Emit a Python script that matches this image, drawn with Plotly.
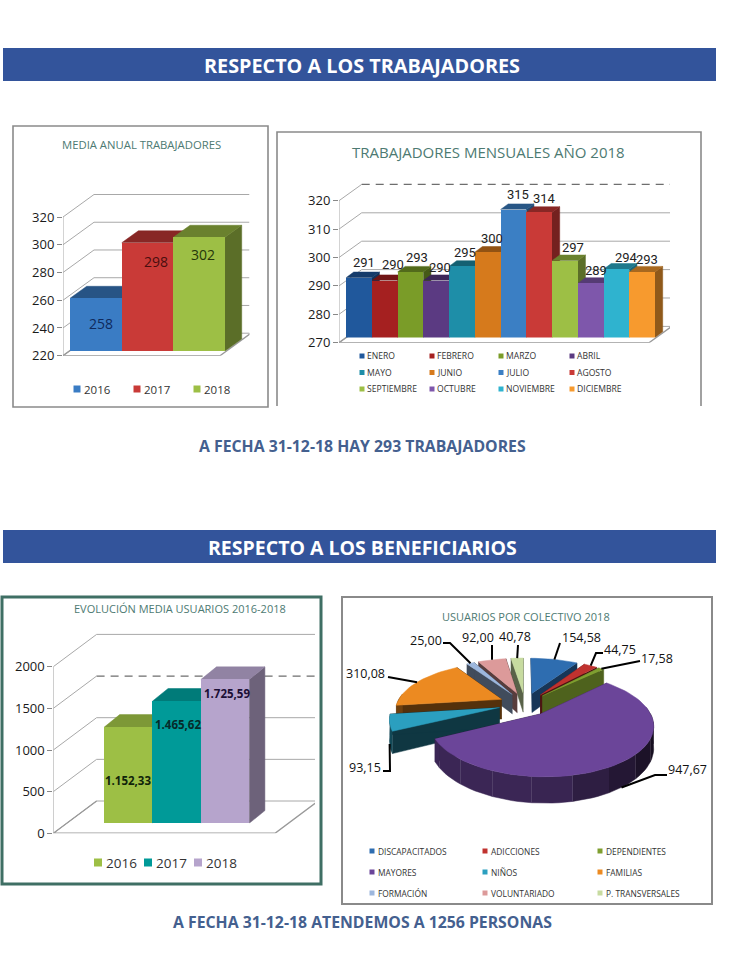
import math
import plotly.graph_objects as go

# ---- series ----
anual_years = ["2016", "2017", "2018"]
anual_values = [258, 298, 302]
anual_ticks = [220, 240, 260, 280, 300, 320]

meses = ["ENERO", "FEBRERO", "MARZO", "ABRIL", "MAYO", "JUNIO", "JULIO", "AGOSTO",
         "SEPTIEMBRE", "OCTUBRE", "NOVIEMBRE", "DICIEMBRE"]
mensual_values = [291, 290, 293, 290, 295, 300, 315, 314, 297, 289, 294, 293]
mensual_ticks = [270, 280, 290, 300, 310, 320]

usuarios_years = ["2016", "2017", "2018"]
usuarios_values = [1152.33, 1465.62, 1725.59]
usuarios_labels = ["1.152,33", "1.465,62", "1.725,59"]
usuarios_ticks = [0, 500, 1000, 1500, 2000]

colectivos = ["DISCAPACITADOS", "ADICCIONES", "DEPENDIENTES", "MAYORES", "NIÑOS", "FAMILIAS",
              "FORMACIÓN", "VOLUNTARIADO", "P. TRANSVERSALES"]
colectivo_values = [154.58, 44.75, 17.58, 947.67, 93.15, 310.08, 25.00, 92.00, 40.78]
colectivo_labels = ["154,58", "44,75", "17,58", "947,67", "93,15", "310,08", "25,00", "92,00", "40,78"]

# ---- palette ----
anual_colors = ["#3a7cc4", "#c93a37", "#9dbf45"]
mensual_colors = ["#20589c", "#a52020", "#7a9c28", "#5b3a82", "#1e8ea8", "#d67a1c",
                  "#3b7fc4", "#c93a37", "#9dbf45", "#7e57ab", "#2fb3cf", "#f79a2e"]
usuarios_colors = ["#9dbf45", "#009a98", "#b6a4cc"]
pie_colors = ["#2e6db0", "#c0322f", "#7f9f30", "#6b4599", "#2b9fbf", "#ec8a21",
              "#9db7dd", "#dc9a9a", "#c7dba0"]
pie_wall_shade = [0.5, 0.4, 0.62, 0.45, 0.35, 0.36, 0.42, 0.4, 0.45]
BANNER = "#33549b"
CAPTION = "#44608f"
TITLE = "#4d7a72"
GRID = "#a8a8a8"
FONT = "Open Sans"

W, H = 754, 960
fig = go.Figure()
layout = dict(width=W, height=H, margin=dict(l=0, r=0, t=0, b=0, pad=0, autoexpand=False), autosize=False,
              paper_bgcolor="white", plot_bgcolor="rgba(0,0,0,0)", showlegend=False,
              bargap=0, hovermode=False,
              xaxis=dict(domain=[0, 1], range=[0, W], visible=False, fixedrange=True),
              yaxis=dict(domain=[0, 1], range=[H, 0], visible=False, fixedrange=True))
shapes, notes = [], []


def shade(color, k):
    r, g, b = (int(color[i:i + 2], 16) for i in (1, 3, 5))
    return "#%02x%02x%02x" % (int(r * k), int(g * k), int(b * k))


def poly(xs, ys, color, xa="x", ya="y"):
    fig.add_trace(go.Scatter(x=xs, y=ys, mode="lines", fill="toself", fillcolor=color,
                             line=dict(color=color, width=0.5), xaxis=xa, yaxis=ya,
                             hoverinfo="skip"))


def line(xs, ys, color=GRID, width=1, dash="solid", xa="x", ya="y"):
    fig.add_trace(go.Scatter(x=xs, y=ys, mode="lines", line=dict(color=color, width=width, dash=dash),
                             xaxis=xa, yaxis=ya, hoverinfo="skip"))


def text(x, y, s, size, color="#222222", bold=False, anchor="center", family=FONT):
    notes.append(dict(x=x, y=y, xref="x", yref="y", text=f"<b>{s}</b>" if bold else s, showarrow=False,
                      xanchor=anchor, yanchor="middle",
                      font=dict(family=family, size=size, color=color)))


axis_no = [1]


def add_axes(x0, x1, ytop, ybot, xr, yr, **yopts):
    axis_no[0] += 1
    n = axis_no[0]
    yopts = yopts or dict(visible=False)
    layout[f"xaxis{n}"] = dict(domain=[x0 / W, x1 / W], range=xr, visible=False, fixedrange=True, anchor=f"y{n}")
    layout[f"yaxis{n}"] = dict(domain=[1 - ybot / H, 1 - ytop / H], range=yr, fixedrange=True,
                               anchor=f"x{n}", **yopts)
    return f"x{n}", f"y{n}"


def bars3d(values, colors, ticks, ax_x, y_floor, px_per_unit, bar_w, wall_dx, wall_dy, grid_right,
           floor_right, bar_dx, bar_dy, depth_dx, depth_dy, labels, label_shift, label_font, dashed=None,
           top_k=0.68, side_k=0.58):
    """Oblique column chart: a back wall, then side/top faces, then the front faces as real bars."""
    vmin = ticks[0]
    y_top = y_floor - (ticks[-1] - vmin) * px_per_unit - wall_dy - 3
    yspan = (y_floor - y_top) / px_per_unit
    xspan = (grid_right - ax_x) / bar_w
    xr, yr = [0, xspan], [vmin, vmin + yspan]
    wdx, wdy = wall_dx / bar_w, wall_dy / px_per_unit
    fx = (floor_right - ax_x) / bar_w

    wx, wy = add_axes(ax_x, grid_right, y_top, y_floor, xr, yr,
                      tickmode="array", tickvals=ticks, ticks="outside", ticklen=5, tickcolor="#888888",
                      tickfont=dict(family=FONT, size=13, color="#1a1a1a"), showgrid=False, zeroline=False,
                      showline=False)
    for t in ticks:
        d = dashed == t
        line([0, wdx], [t, t + wdy], xa=wx, ya=wy)
        line([wdx, xspan], [t + wdy, t + wdy], color="#6e6e6e" if d else GRID,
             width=1.3 if d else 1, dash="8px,6px" if d else "solid", xa=wx, ya=wy)
    line([0, 0], [ticks[0], ticks[-1]], xa=wx, ya=wy)
    line([wdx, 0, fx, fx + wdx], [vmin + wdy, vmin, vmin, vmin + wdy], color="#9a9a9a", width=1.4, xa=wx, ya=wy)

    # Faces and fronts share one plane, moved off the axis by the floor inset.
    plane = (ax_x + bar_dx, grid_right + bar_dx, y_top - bar_dy, y_floor - bar_dy)
    fx_a, fy_a = add_axes(*plane, xr, yr)
    bx_a, by_a = add_axes(*plane, xr, yr)
    ddx, ddy = depth_dx / bar_w, depth_dy / px_per_unit
    for i, (v, c) in enumerate(zip(values, colors)):
        poly([i + 1, i + 1 + ddx, i + 1 + ddx, i + 1], [vmin, vmin + ddy, v + ddy, v], shade(c, side_k), fx_a, fy_a)
    for i, (v, c) in enumerate(zip(values, colors)):
        poly([i, i + ddx, i + 1 + ddx, i + 1], [v, v + ddy, v + ddy, v], shade(c, top_k), fx_a, fy_a)
    fig.add_trace(go.Bar(x=[i + 0.5 for i in range(len(values))], y=values, width=1, marker=dict(color=colors, line=dict(width=0)),
                         xaxis=bx_a, yaxis=by_a, hoverinfo="skip"))
    for i, (v, lab, (sx, sy), (fam, size, col, bold)) in enumerate(zip(values, labels, label_shift, label_font)):
        notes.append(dict(x=i + 0.5, y=v, xref=bx_a, yref=by_a, text=f"<b>{lab}</b>" if bold else lab,
                          showarrow=False, xshift=sx, yshift=sy, font=dict(family=fam, size=size, color=col)))


# ---- page furniture ----
for y0, y1 in ((48, 81), (530, 563)):
    shapes.append(dict(type="rect", xref="x", yref="y", x0=3, x1=716, y0=y0, y1=y1, fillcolor=BANNER,
                       line=dict(width=0), layer="below"))
text(362, 65, "RESPECTO A LOS TRABAJADORES", 19.8, "white", True)
text(362, 547, "RESPECTO A LOS BENEFICIARIOS", 19.5, "white", True)
text(362, 446, "A FECHA 31-12-18 HAY 293 TRABAJADORES", 15.8, CAPTION, True)
text(362, 922, "A FECHA 31-12-18 ATENDEMOS A 1256 PERSONAS", 15.8, CAPTION, True)

for x0, y0, x1, y1, col, w in ((13, 126, 268, 407, "#8a8a8a", 1.6), (342, 597, 712, 904, "#8a8a8a", 2),
                               (2, 597, 321, 884, "#3f6f64", 3)):
    shapes.append(dict(type="rect", xref="x", yref="y", x0=x0, x1=x1, y0=y0, y1=y1,
                       line=dict(color=col, width=w), layer="below"))
line([277, 277, 701, 701], [406, 132, 132, 406], color="#8a8a8a", width=1.6)

text(141, 144, "MEDIA ANUAL TRABAJADORES", 11.3, TITLE)
text(488, 152, "TRABAJADORES MENSUALES AÑO 2018", 15, TITLE)
text(180, 608, "EVOLUCIÓN MEDIA USUARIOS 2016-2018", 11, TITLE)
text(526, 616, "USUARIOS POR COLECTIVO 2018", 11, TITLE)

# ---- annual staff ----
bars3d(anual_values, anual_colors, anual_ticks, ax_x=63, y_floor=355.7, px_per_unit=1.387, bar_w=51.67,
       wall_dx=31, wall_dy=22.5, grid_right=249.5, floor_right=220, bar_dx=7, bar_dy=4.7,
       depth_dx=16.7, depth_dy=12, labels=[str(v) for v in anual_values],
       label_shift=[(5, -25), (8, -19), (4, -17)],
       label_font=[(FONT, 14, "#0f2a5c", False), (FONT, 14, "#4a0e0e", False), (FONT, 14, "#26360a", False)])

# ---- monthly staff ----
bars3d(mensual_values, mensual_colors, mensual_ticks, ax_x=339, y_floor=342.7, px_per_unit=2.84, bar_w=25.75,
       wall_dx=22.7, wall_dy=16.3, grid_right=670, floor_right=649, bar_dx=7, bar_dy=5.3,
       depth_dx=7.7, depth_dy=5.7, labels=[str(v) for v in mensual_values],
       label_shift=[(5, 15), (8, 16), (7, 15), (4, 13), (3, 14), (4, 14),
                    (5, 15), (5, 14), (8, 13), (5, 13), (10, 12), (5, 13)],
       label_font=[("Roboto", 13, "#222222", False)] * 12, dashed=320)

# ---- yearly users ----
bars3d(usuarios_values, usuarios_colors, usuarios_ticks, ax_x=53.3, y_floor=833.3, px_per_unit=0.0833,
       bar_w=48.4, wall_dx=43.3, wall_dy=32.3, grid_right=315, floor_right=275, bar_dx=50.7, bar_dy=10,
       depth_dx=15.7, depth_dy=12.7, labels=usuarios_labels, label_shift=[(0, -53), (1, -23), (2, -14)],
       label_font=[(FONT, 11.5, "#10240a", True), (FONT, 11.5, "#062a2a", True), (FONT, 11.5, "#1c0f35", True)],
       dashed=1500, top_k=0.8, side_k=0.6)

# ---- exploded pie in perspective ----
PX, PY = 525, 704      # pivot of the disc on the page
RX, RY = 105, 46       # disc radius across and along the view
THICK = 20
EXPLODE = 0.25
VIEW = 5.0
total = sum(colectivo_values)


def project(u, v, drop=0.0):
    s = VIEW / (VIEW + v)
    return PX + RX * u * s, PY - RY * v * s + drop * s


slices = []
start = 0.0
for val, col, wk in zip(colectivo_values, pie_colors, pie_wall_shade):
    sweep = 2 * math.pi * val / total
    slices.append((start, start + sweep, col, wk))
    start += sweep


def rim(a, ox, oy):
    return ox + math.sin(a), oy + math.cos(a)


def draw_slice(a0, a1, col, wk):
    mid = (a0 + a1) / 2
    ox, oy = EXPLODE * math.sin(mid), EXPLODE * math.cos(mid)
    n = max(2, int((a1 - a0) / 0.05))
    angles = [a0 + (a1 - a0) * i / n for i in range(n + 1)]
    # radial walls
    for a in (a0, a1):
        p, q = project(ox, oy), project(*rim(a, ox, oy))
        p2, q2 = project(ox, oy, THICK), project(*rim(a, ox, oy), THICK)
        poly([p[0], q[0], q2[0], p2[0]], [p[1], q[1], q2[1], p2[1]], shade(col, wk))
    # outer wall in broad bands, darker towards the right-hand side of the disc
    front = [a for a in angles if math.cos(a) <= 0.15]
    for i in range(0, max(len(front) - 1, 0), 6):
        band = front[i:i + 7]
        m = band[len(band) // 2]
        k = (wk + 0.11) - 0.36 * max(0.0, math.sin(m))
        up = [project(*rim(a, ox, oy)) for a in band]
        down = [project(*rim(a, ox, oy), THICK) for a in reversed(band)]
        poly([p[0] for p in up + down], [p[1] for p in up + down], shade(col, k))
    # top face
    pts = [project(ox, oy)] + [project(*rim(a, ox, oy)) for a in angles]
    poly([p[0] for p in pts], [p[1] for p in pts], col)


for s in sorted(slices, key=lambda s: -math.cos((s[0] + s[1]) / 2)):
    draw_slice(*s)

# label centre, then the leader's elbow points on the way to the slice rim
pie_label_pos = [(581, 637), (620, 649), (657, 658), (687, 769), (365, 767), (365, 673), (426, 640), (478, 637), (515, 636)]
pie_leader_bend = [[(560, 643)], [(603, 653), (596, 653)], [(640, 661)], [(667, 775), (655, 775)],
                   [(383, 771), (390, 771)], [(388, 677)], [(443, 643), (450, 643)], [(492, 645)], [(518, 645)]]
pie_leader_drop = [0, 0, 0, THICK, THICK, 0, 0, 0, 0]
for (a0, a1, _, _), lab, pos, bend, drop in zip(slices, colectivo_labels, pie_label_pos, pie_leader_bend, pie_leader_drop):
    mid = (a0 + a1) / 2
    ox, oy = EXPLODE * math.sin(mid), EXPLODE * math.cos(mid)
    end = project(*rim(mid, ox, oy), drop)
    pts = bend + [end]
    line([p[0] for p in pts], [p[1] for p in pts], color="#000000", width=2)
    text(pos[0], pos[1], lab, 12.5, "#111111")


# ---- legends ----
def legend(names, colors, xs, ys, size, box, gap, cols):
    for i, (name, c) in enumerate(zip(names, colors)):
        x, y = xs[i % cols], ys[i // cols]
        fig.add_trace(go.Scatter(x=[x], y=[y], mode="markers", marker=dict(symbol="square", size=box, color=c),
                                 hoverinfo="skip"))
        text(x + gap, y, name, size, "#333333", anchor="left")


legend(anual_years, anual_colors, [77, 137, 197], [389], 11.5, 7, 5, 3)
legend(usuarios_years, usuarios_colors, [98, 148, 198], [862.5], 13.5, 8, 6, 3)
legend(meses, mensual_colors, [362, 432, 501, 572], [356, 372.5, 389], 8.6, 5, 3, 4)
legend(colectivos, pie_colors, [372, 485, 600], [851, 872, 893], 8.4, 5, 4, 3)

layout["shapes"] = shapes
layout["annotations"] = notes
fig.update_layout(**layout)
fig.write_html("out.html")
